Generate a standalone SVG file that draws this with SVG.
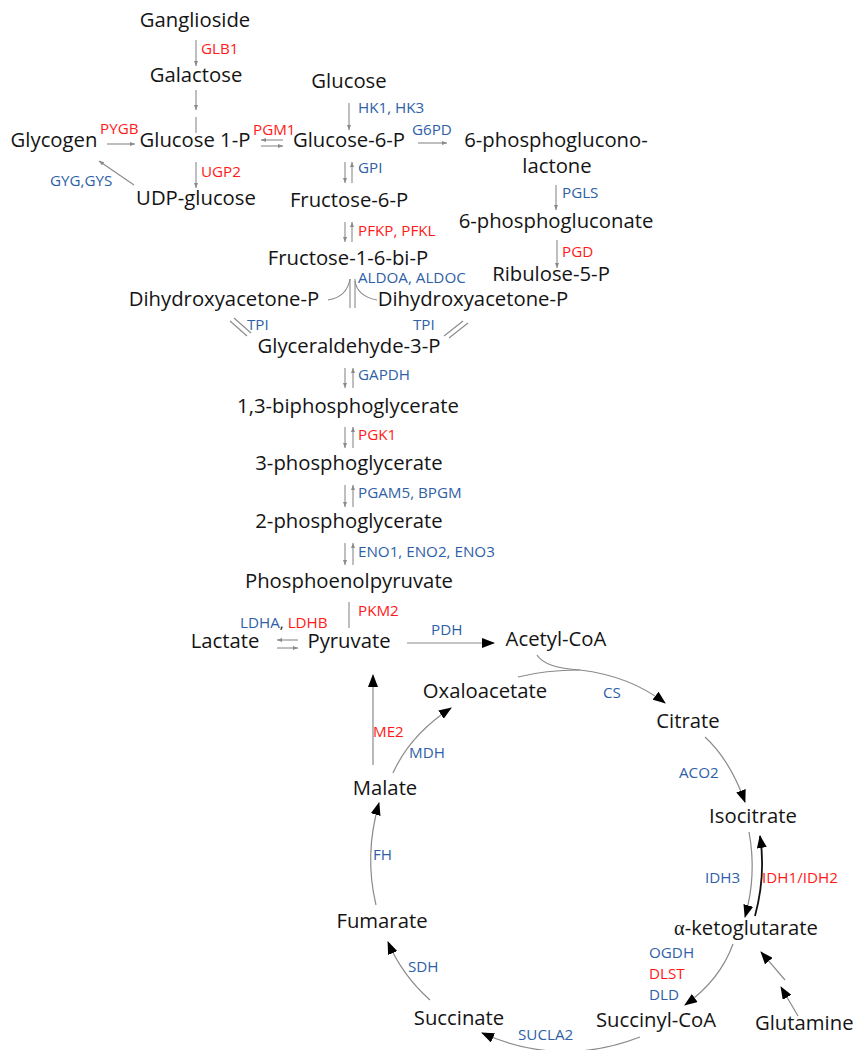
<svg xmlns="http://www.w3.org/2000/svg" width="853" height="1050" viewBox="0 0 853 1050">
<style>
.n{font-family:"Open Sans","Noto Sans",sans-serif;font-size:20.3px;fill:#141414;text-anchor:middle}
.e{font-family:"Open Sans","Noto Sans",sans-serif;font-size:15.2px}
.b{fill:#2F5FA8}
.r{fill:#FF1A1A}
.k{fill:#141414}
.g{stroke:#8a8a8a;stroke-width:1.1;fill:none}
.ga{stroke:#8a8a8a;stroke-width:1.1;fill:none;marker-end:url(#sa)}
.t{stroke:#8a8a8a;stroke-width:1.2;fill:none;marker-end:url(#ba)}
.tk{stroke:#111;stroke-width:1.8;fill:none;marker-end:url(#ba)}
</style>
<defs>
<marker id="sa" markerUnits="userSpaceOnUse" markerWidth="5" markerHeight="4" refX="5" refY="2" orient="auto"><path d="M0,0 L5,2 L0,4 z" fill="#8a8a8a"/></marker>
<marker id="ba" markerUnits="userSpaceOnUse" markerWidth="13" markerHeight="10" refX="12" refY="5" orient="auto"><path d="M0,0 L13,5 L0,10 z" fill="#000"/></marker>
</defs>
<rect width="853" height="1050" fill="#fff"/>

<g id="connectors">
<line class="ga" x1="196" y1="40" x2="196" y2="66"/>
<line class="ga" x1="196" y1="90" x2="196" y2="110"/>
<line class="g" x1="196" y1="117" x2="196" y2="133"/>
<line class="ga" x1="349" y1="103" x2="349" y2="130"/>
<line class="ga" x1="107" y1="144" x2="135" y2="144"/>
<line class="ga" x1="283" y1="140" x2="261" y2="140"/>
<line class="ga" x1="261" y1="146" x2="283" y2="146"/>
<line class="ga" x1="418" y1="143" x2="447" y2="143"/>
<line class="ga" x1="556" y1="185" x2="556" y2="210"/>
<line class="ga" x1="557" y1="240" x2="557" y2="268"/>
<line class="ga" x1="196" y1="162" x2="196" y2="188"/>
<line class="ga" x1="134" y1="185" x2="99" y2="161"/>
<line class="ga" x1="345" y1="162" x2="345" y2="183"/>
<line class="ga" x1="352" y1="183" x2="352" y2="162"/>
<line class="ga" x1="345" y1="222" x2="345" y2="242"/>
<line class="ga" x1="352" y1="242" x2="352" y2="222"/>
<line class="g" x1="350" y1="279" x2="350" y2="308"/>
<line class="g" x1="355" y1="279" x2="355" y2="308"/>
<path class="g" d="M328 300 Q347 297 350 279"/>
<path class="g" d="M377 300 Q357 296 355 281"/>
<line class="g" x1="230" y1="321" x2="247" y2="336"/>
<line class="g" x1="234" y1="318" x2="251" y2="333"/>
<line class="g" x1="463" y1="321" x2="444" y2="336"/>
<line class="g" x1="468" y1="323" x2="449" y2="338"/>
<line class="ga" x1="345" y1="368" x2="345" y2="388"/>
<line class="ga" x1="353" y1="388" x2="353" y2="368"/>
<line class="ga" x1="345" y1="427" x2="345" y2="448"/>
<line class="ga" x1="353" y1="448" x2="353" y2="427"/>
<line class="ga" x1="345" y1="485" x2="345" y2="507"/>
<line class="ga" x1="353" y1="507" x2="353" y2="485"/>
<line class="ga" x1="345" y1="543" x2="345" y2="565"/>
<line class="ga" x1="353" y1="565" x2="353" y2="543"/>
<line class="g" x1="349" y1="602" x2="349" y2="628"/>
<line class="ga" x1="298" y1="640" x2="277" y2="640"/>
<line class="ga" x1="277" y1="648" x2="298" y2="648"/>
<line class="t" x1="407" y1="643" x2="494" y2="643"/>
<path class="t" d="M537 655 Q545 668 580 670 Q630 676 665 703"/>
<path class="g" d="M518 677 Q545 670 580 670"/>
<path class="t" d="M705 737 Q730 760 745 802"/>
<path class="t" d="M749 832 Q757 875 745 917"/>
<path class="tk" d="M755 916 Q766 875 760 836"/>
<path class="t" d="M733 944 Q720 980 685 1005"/>
<path class="t" d="M640 1037 Q560 1068 482 1033"/>
<path class="t" d="M430 1000 Q402 975 388 942"/>
<path class="t" d="M376 905 Q364 855 379 803"/>
<path class="t" d="M393 773 Q410 735 451 708"/>
<line class="t" x1="373" y1="765" x2="373" y2="675"/>
<line class="t" x1="798" y1="1016" x2="781" y2="987"/>
<line class="t" x1="785" y1="980" x2="761" y2="952"/>
</g>

<g id="ganglioside"><text class="n" x="195" y="27">Ganglioside</text></g>
<g id="galactose"><text class="n" x="196" y="82">Galactose</text></g>
<g id="glycogen"><text class="n" x="54" y="147">Glycogen</text></g>
<g id="glucose1p"><text class="n" x="195" y="147">Glucose 1-P</text></g>
<g id="glucose"><text class="n" x="349" y="88">Glucose</text></g>
<g id="glucose6p"><text class="n" x="349" y="147">Glucose-6-P</text></g>
<g id="pgl"><text class="n" x="556" y="147">6-phosphoglucono-</text><text class="n" x="557" y="173">lactone</text></g>
<g id="pgc"><text class="n" x="556" y="228">6-phosphogluconate</text></g>
<g id="ribulose"><text class="n" x="551" y="281">Ribulose-5-P</text></g>
<g id="udpglucose"><text class="n" x="196" y="205">UDP-glucose</text></g>
<g id="f6p"><text class="n" x="349" y="207">Fructose-6-P</text></g>
<g id="f16bp"><text class="n" x="348" y="265">Fructose-1-6-bi-P</text></g>
<g id="dhap1"><text class="n" x="224" y="306">Dihydroxyacetone-P</text></g>
<g id="dhap2"><text class="n" x="473" y="306">Dihydroxyacetone-P</text></g>
<g id="g3p"><text class="n" x="349" y="353">Glyceraldehyde-3-P</text></g>
<g id="bpg"><text class="n" x="348" y="413">1,3-biphosphoglycerate</text></g>
<g id="pg3"><text class="n" x="349" y="470">3-phosphoglycerate</text></g>
<g id="pg2"><text class="n" x="349" y="528">2-phosphoglycerate</text></g>
<g id="pep"><text class="n" x="349" y="588">Phosphoenolpyruvate</text></g>
<g id="lactate"><text class="n" x="225" y="648">Lactate</text></g>
<g id="pyruvate"><text class="n" x="349" y="648">Pyruvate</text></g>
<g id="acetylcoa"><text class="n" x="556" y="646">Acetyl-CoA</text></g>
<g id="oxaloacetate"><text class="n" x="485" y="698">Oxaloacetate</text></g>
<g id="citrate"><text class="n" x="688" y="728">Citrate</text></g>
<g id="isocitrate"><text class="n" x="753" y="823">Isocitrate</text></g>
<g id="akg"><text class="n" x="746" y="935"><tspan font-family="Liberation Serif, serif">α</tspan>-ketoglutarate</text></g>
<g id="glutamine"><text class="n" x="755" y="1030" style="text-anchor:start">Glutamine</text></g>
<g id="succinylcoa"><text class="n" x="656" y="1027">Succinyl-CoA</text></g>
<g id="succinate"><text class="n" x="459" y="1025">Succinate</text></g>
<g id="fumarate"><text class="n" x="382" y="928">Fumarate</text></g>
<g id="malate"><text class="n" x="385" y="795">Malate</text></g>

<g id="enzymes">
<text class="e r" x="201" y="54">GLB1</text>
<text class="e r" x="100" y="134">PYGB</text>
<text class="e r" x="253" y="135">PGM1</text>
<text class="e r" x="201" y="177">UGP2</text>
<text class="e b" x="50" y="186">GYG,GYS</text>
<text class="e b" x="358" y="113">HK1, HK3</text>
<text class="e b" x="412" y="135">G6PD</text>
<text class="e b" x="358" y="173">GPI</text>
<text class="e b" x="562" y="198">PGLS</text>
<text class="e r" x="358" y="236">PFKP, PFKL</text>
<text class="e r" x="562" y="257">PGD</text>
<text class="e b" x="358" y="283">ALDOA, ALDOC</text>
<text class="e b" x="247" y="330">TPI</text>
<text class="e b" x="413" y="330">TPI</text>
<text class="e b" x="358" y="380">GAPDH</text>
<text class="e r" x="358" y="440">PGK1</text>
<text class="e b" x="358" y="498">PGAM5, BPGM</text>
<text class="e b" x="358" y="557">ENO1, ENO2, ENO3</text>
<text class="e r" x="358" y="616">PKM2</text>
<text class="e" x="240" y="628"><tspan class="b">LDHA</tspan><tspan class="k">, </tspan><tspan class="r">LDHB</tspan></text>
<text class="e b" x="431" y="635">PDH</text>
<text class="e b" x="603" y="698">CS</text>
<text class="e r" x="373" y="737">ME2</text>
<text class="e b" x="409" y="758">MDH</text>
<text class="e b" x="679" y="778">ACO2</text>
<text class="e b" x="373" y="860">FH</text>
<text class="e b" x="705" y="883">IDH3</text>
<text class="e r" x="762" y="883">IDH1/IDH2</text>
<text class="e b" x="649" y="958">OGDH</text>
<text class="e r" x="649" y="979">DLST</text>
<text class="e b" x="649" y="1000">DLD</text>
<text class="e b" x="408" y="972">SDH</text>
<text class="e b" x="518" y="1040">SUCLA2</text>
</g>
</svg>
